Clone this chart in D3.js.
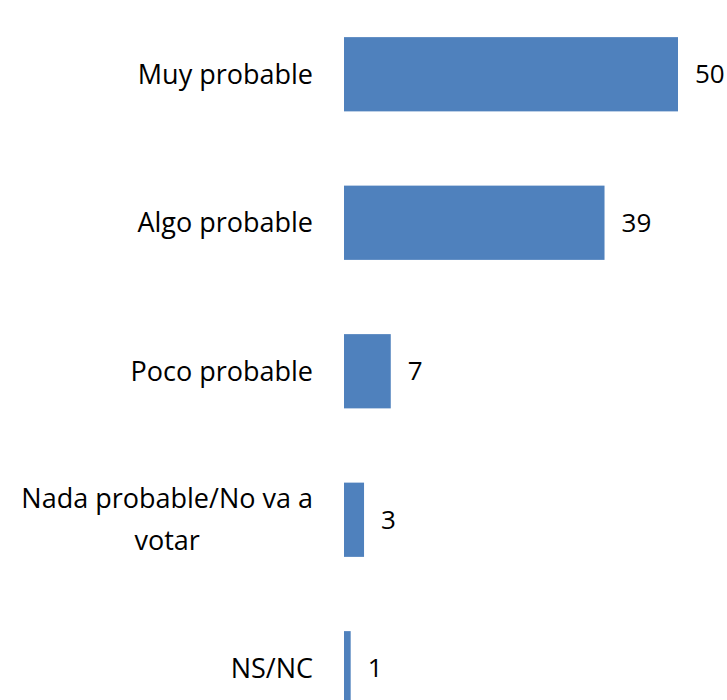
<!DOCTYPE html>
<html lang="es">
<head>
  <meta charset="UTF-8">
  <title>Probabilidad de votar</title>
  <style>
    body { margin: 0; background: #fff; }
    text { font-family: "Open Sans", "Noto Sans", sans-serif; font-size: 26px; fill: #000; }
    text.cat { font-size: 27px; }
  </style>
</head>
<body>
  <svg id="svg" width="727" height="700"></svg>

  <script src="https://d3js.org/d3.v7.min.js"></script>
  <script>
    // data
    const categories = ['Muy probable', 'Algo probable', 'Poco probable', 'Nada probable/No va a|votar', 'NS/NC']
    const values = [50, 39, 7, 3, 1]

    const data = categories.map((c, i) => ({ label: c, value: values[i] }))

    const svg = d3.select('#svg')

    // bars start at 344, 50 reaches 678; the last row runs past the bottom edge
    const x = d3.scaleLinear()
      .domain([0, 50])
      .range([344, 678])

    const y = d3.scaleBand()
      .domain(categories)
      .range([0, 742.5])
      .paddingInner(0.5)
      .paddingOuter(0.25)

    svg.selectAll('rect')
      .data(data)
      .join('rect')
      .attr('x', x(0))
      .attr('y', d => y(d.label))
      .attr('width', d => x(d.value) - x(0))
      .attr('height', y.bandwidth())
      .attr('fill', '#4f81bd')

    // value labels
    svg.selectAll('.val')
      .data(data)
      .join('text')
      .attr('class', 'val')
      .attr('x', d => x(d.value) + 17)
      .attr('y', d => y(d.label) + y.bandwidth() / 2)
      .attr('dy', '0.35em')
      .text(d => d.value)

    // category labels, right edge of block at 313, wrapped lines centred
    const labelRight = x(0) - 31
    data.forEach(d => {
      const lines = d.label.split('|')
      const cy = y(d.label) + y.bandwidth() / 2
      if (lines.length === 1) {
        svg.append('text')
          .attr('class', 'cat')
          .attr('x', labelRight)
          .attr('y', cy)
          .attr('dy', '0.35em')
          .attr('text-anchor', 'end')
          .text(lines[0])
      } else {
        const g = svg.append('g')
        const ts = lines.map((l, i) => g.append('text')
          .attr('class', 'cat')
          .attr('y', cy - 12 + i * 42)
          .attr('text-anchor', 'middle')
          .text(l))
        const w = d3.max(ts, t => t.node().getComputedTextLength())
        ts.forEach(t => t.attr('x', labelRight - w / 2))
      }
    })
  </script>
</body>
</html>
